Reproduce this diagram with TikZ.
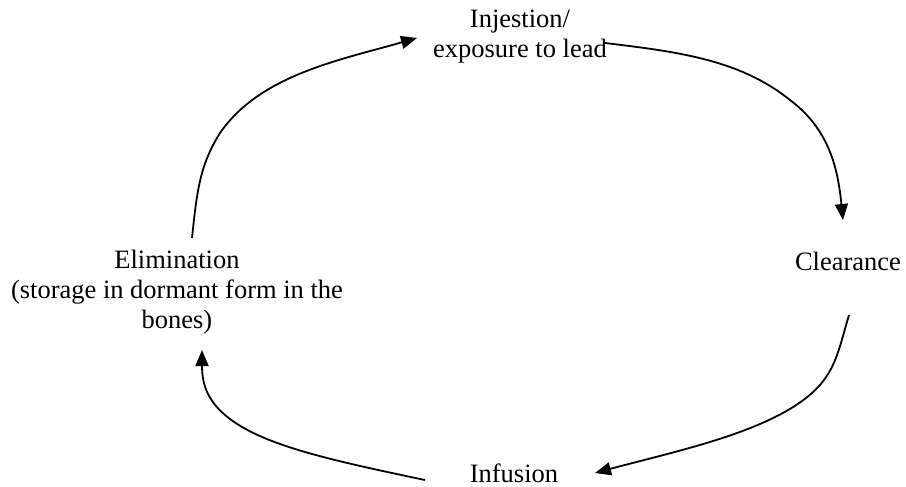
\documentclass[tikz,border=0pt]{standalone}
\usepackage{fontspec}
\setmainfont{Liberation Serif}
\usetikzlibrary{arrows.meta}
\begin{document}
\begin{tikzpicture}[x=1pt,y=-1pt,
  lbl/.style={inner sep=0pt,align=center,font=\fontsize{26.5}{30}\selectfont,anchor=base},
  flow/.style={line width=1.8pt,-{Triangle[length=16pt,width=13pt]}}]
\useasboundingbox (0,0) rectangle (906,487);
\node[lbl] (inj) at (520,58) {Injestion/\\exposure to lead};
\node[lbl] (clr) at (848,270) {Clearance};
\node[lbl] (inf) at (514,482) {Infusion};
\node[lbl] (eli) at (177,328) {Elimination\\(storage in dormant form in the\\bones)};
\coordinate (a1s) at (192,238);
\coordinate (a1e) at (417,38);
\coordinate (a2s) at (605,43);
\coordinate (a2e) at (843,220);
\coordinate (a3s) at (849,315);
\coordinate (a3e) at (595,473);
\coordinate (a4s) at (425,480);
\coordinate (a4e) at (202,350);
\draw[flow] (a1s) .. controls (197,190) and (200,165) .. (220,133) .. controls (260,75) and (340,60) .. (a1e);
\draw[flow] (a2s) .. controls (680,52) and (740,60) .. (790,100) .. controls (830,130) and (838,170) .. (a2e);
\draw[flow] (a3s) .. controls (840,345) and (837,365) .. (820,385) .. controls (780,430) and (680,450) .. (a3e);
\draw[flow] (a4s) .. controls (330,460) and (260,445) .. (225,415) .. controls (205,398) and (202,380) .. (a4e);
\end{tikzpicture}
\end{document}
